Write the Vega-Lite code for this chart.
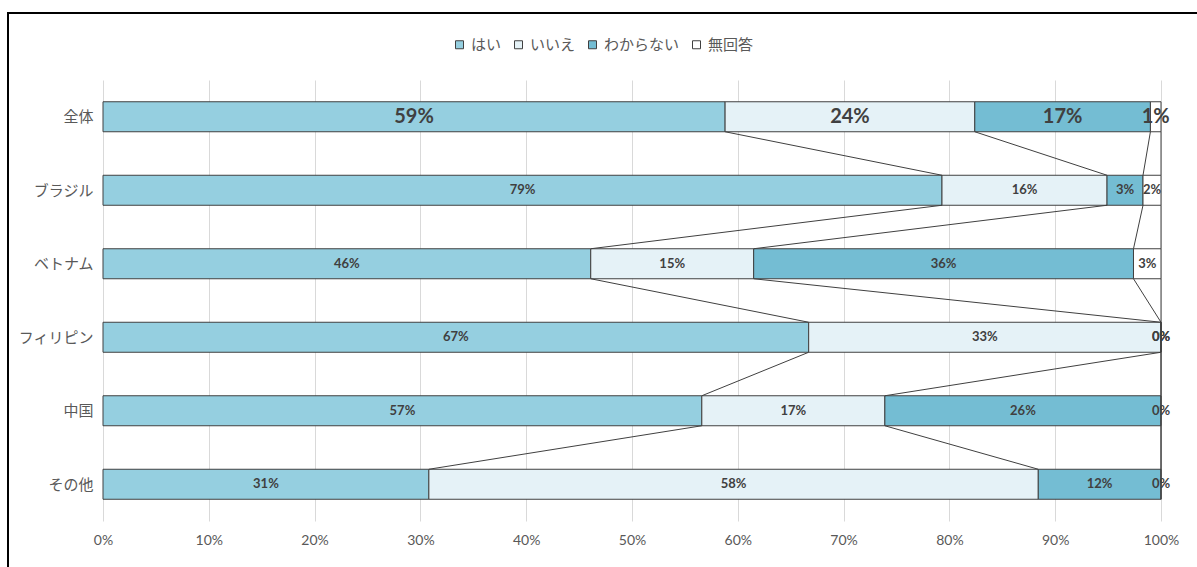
{
  "$schema": "https://vega.github.io/schema/vega-lite/v6.json",
  "width": 1192,
  "height": 575,
  "autosize": {"type": "none"},
  "padding": {"left": 8, "top": 13, "right": -3, "bottom": -21},
  "background": "white",
  "config": {"view": {"stroke": "#000000", "strokeWidth": 2}, "font": "Noto Sans CJK JP"},
  "data": {"values": [
    {"cat": "全体", "i": 0, "resp": "はい", "k": 0, "pct": 0.588},
    {"cat": "全体", "i": 0, "resp": "いいえ", "k": 1, "pct": 0.236},
    {"cat": "全体", "i": 0, "resp": "わからない", "k": 2, "pct": 0.166},
    {"cat": "全体", "i": 0, "resp": "無回答", "k": 3, "pct": 0.010},
    {"cat": "ブラジル", "i": 1, "resp": "はい", "k": 0, "pct": 0.793},
    {"cat": "ブラジル", "i": 1, "resp": "いいえ", "k": 1, "pct": 0.156},
    {"cat": "ブラジル", "i": 1, "resp": "わからない", "k": 2, "pct": 0.034},
    {"cat": "ブラジル", "i": 1, "resp": "無回答", "k": 3, "pct": 0.017},
    {"cat": "ベトナム", "i": 2, "resp": "はい", "k": 0, "pct": 0.461},
    {"cat": "ベトナム", "i": 2, "resp": "いいえ", "k": 1, "pct": 0.154},
    {"cat": "ベトナム", "i": 2, "resp": "わからない", "k": 2, "pct": 0.359},
    {"cat": "ベトナム", "i": 2, "resp": "無回答", "k": 3, "pct": 0.026},
    {"cat": "フィリピン", "i": 3, "resp": "はい", "k": 0, "pct": 0.667},
    {"cat": "フィリピン", "i": 3, "resp": "いいえ", "k": 1, "pct": 0.333},
    {"cat": "フィリピン", "i": 3, "resp": "わからない", "k": 2, "pct": 0.0},
    {"cat": "フィリピン", "i": 3, "resp": "無回答", "k": 3, "pct": 0.0},
    {"cat": "中国", "i": 4, "resp": "はい", "k": 0, "pct": 0.566},
    {"cat": "中国", "i": 4, "resp": "いいえ", "k": 1, "pct": 0.173},
    {"cat": "中国", "i": 4, "resp": "わからない", "k": 2, "pct": 0.261},
    {"cat": "中国", "i": 4, "resp": "無回答", "k": 3, "pct": 0.0},
    {"cat": "その他", "i": 5, "resp": "はい", "k": 0, "pct": 0.308},
    {"cat": "その他", "i": 5, "resp": "いいえ", "k": 1, "pct": 0.576},
    {"cat": "その他", "i": 5, "resp": "わからない", "k": 2, "pct": 0.116},
    {"cat": "その他", "i": 5, "resp": "無回答", "k": 3, "pct": 0.0}
  ]},
  "transform": [
    {"stack": "pct", "groupby": ["cat"], "sort": [{"field": "k", "order": "ascending"}], "as": ["x0", "x1"]},
    {"calculate": "(datum.x0 + datum.x1) / 2", "as": "mid"}
  ],
  "layer": [
    {
      "mark": {"type": "bar", "orient": "horizontal", "size": 30, "stroke": "#404040", "strokeWidth": 1},
      "encoding": {
        "x": {
          "field": "x0", "type": "quantitative", "title": null,
          "scale": {"domain": [0, 1], "range": [95, 1153], "nice": false, "zero": false, "padding": 0},
          "axis": {"orient": "bottom", "offset": -67, "values": [0, 0.1, 0.2, 0.3, 0.4, 0.5, 0.6, 0.7, 0.8, 0.9, 1], "format": ".0%", "domain": false, "ticks": false, "grid": true, "gridColor": "#d9d9d9", "gridWidth": 1, "labelPadding": 12, "labelFontSize": 14, "labelColor": "#595959", "labelFont": "Lato", "labelFlush": false, "title": null}
        },
        "x2": {"field": "x1"},
        "y": {
          "field": "i", "type": "quantitative", "title": null,
          "scale": {"domain": [-0.5, 5.5], "range": [67, 508], "nice": false, "zero": false, "padding": 0},
          "axis": {"orient": "left", "offset": -95, "values": [0, 1, 2, 3, 4, 5], "labelExpr": "['全体','ブラジル','ベトナム','フィリピン','中国','その他'][datum.value]", "domain": false, "ticks": false, "grid": false, "labelPadding": 10, "labelFontSize": 15, "labelColor": "#595959", "labelFont": "Noto Sans CJK JP", "title": null}
        },
        "color": {
          "field": "resp", "type": "nominal",
          "scale": {"domain": ["はい", "いいえ", "わからない", "無回答"], "range": ["#95cfe0", "#e5f2f7", "#74bdd3", "#ffffff"]},
          "legend": {"orient": "none", "legendX": 444, "legendY": 24, "direction": "horizontal", "title": null, "symbolType": "square", "symbolSize": 64, "symbolStrokeColor": "#404040", "symbolStrokeWidth": 1, "labelFont": "Noto Sans CJK JP", "labelFontSize": 15, "labelColor": "#595959", "labelOffset": 4, "columnPadding": 9, "padding": 0}
        }
      }
    },
    {
      "transform": [
        {"window": [{"op": "lead", "field": "x1", "as": "nx"}, {"op": "lead", "field": "i", "as": "ni"}], "groupby": ["resp"], "sort": [{"field": "i", "order": "ascending"}]},
        {"filter": "isValid(datum.ni)"}
      ],
      "mark": {"type": "rule", "color": "#404040", "strokeWidth": 1, "yOffset": 15, "y2Offset": -15},
      "encoding": {
        "x": {"field": "x1", "type": "quantitative", "title": null},
        "x2": {"field": "nx"},
        "y": {"field": "i", "type": "quantitative", "title": null},
        "y2": {"field": "ni"}
      }
    },
    {
      "mark": {"type": "text", "fontWeight": "bold", "color": "#404040", "font": "Lato"},
      "encoding": {
        "x": {"field": "mid", "type": "quantitative", "title": null},
        "y": {"field": "i", "type": "quantitative", "title": null},
        "text": {"field": "pct", "type": "quantitative", "format": ".0%"},
        "size": {"condition": {"test": "datum.i === 0", "value": 20}, "value": 13}
      }
    }
  ]
}
